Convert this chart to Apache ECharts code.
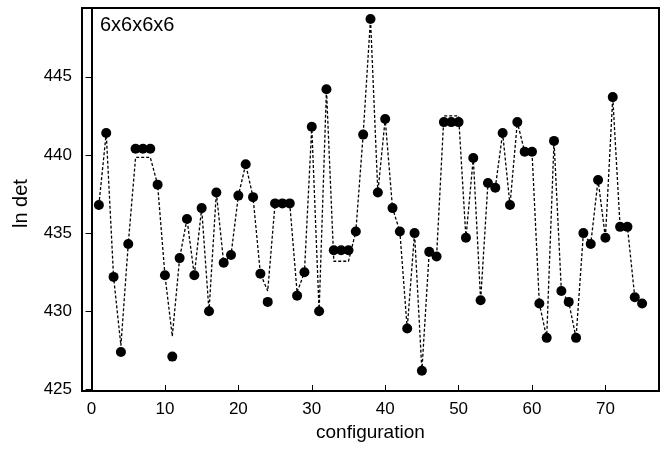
<!DOCTYPE html>
<html>
<head>
<meta charset="utf-8">
<script src="https://cdn.jsdelivr.net/npm/echarts@6/dist/echarts.min.js"></script>
<style>
  html, body { margin: 0; padding: 0; background: #fff; }
  #main { width: 671px; height: 449px; }
</style>
</head>
<body>
<div id="main"></div>
<script>
// configuration index 1..75
var configs = [];
for (var k = 1; k <= 75; k++) configs.push(k);

// ln det of each configuration (dots)
var lnDet = [
  436.8, 441.4, 432.2, 427.4, 434.3, 440.4, 440.4, 440.4, 438.1, 432.3,
  427.1, 433.4, 435.9, 432.3, 436.6, 430.0, 437.6, 433.1, 433.6, 437.4,
  439.4, 437.3, 432.4, 430.6, 436.9, 436.9, 436.9, 431.0, 432.5, 441.8,
  430.0, 444.2, 433.9, 433.9, 433.9, 435.1, 441.3, 448.7, 437.6, 442.3,
  436.6, 435.1, 428.9, 435.0, 426.2, 433.8, 433.5, 442.1, 442.1, 442.1,
  434.7, 439.8, 430.7, 438.2, 437.9, 441.4, 436.8, 442.1, 440.2, 440.2,
  430.5, 428.3, 440.9, 431.3, 430.6, 428.3, 435.0, 434.3, 438.4, 434.7,
  443.7, 435.4, 435.4, 430.9, 430.5
];

// dashed curve (same as dots except a few places)
var curve = [
  436.8, 441.4, 432.2, 427.8, 434.3, 439.85, 439.85, 439.85, 438.1, 432.3,
  428.4, 433.4, 435.9, 432.3, 436.6, 430.0, 437.6, 433.1, 433.6, 437.4,
  439.4, 437.3, 432.4, 431.3, 436.9, 436.9, 436.9, 431.2, 432.5, 441.8,
  430.0, 444.2, 433.2, 433.2, 433.2, 435.1, 441.3, 448.7, 437.6, 442.3,
  436.6, 435.1, 428.9, 435.0, 426.2, 433.8, 433.5, 442.5, 442.5, 442.5,
  434.7, 439.8, 430.7, 438.2, 437.9, 441.4, 436.8, 442.1, 440.2, 440.2,
  430.5, 428.3, 440.9, 431.3, 430.6, 428.3, 435.0, 434.3, 438.4, 434.7,
  443.7, 435.4, 435.4, 430.9, 430.5
];

var xTicks = [0, 10, 20, 30, 40, 50, 60, 70];
var yTicks = [425, 430, 435, 440, 445];

var chart = echarts.init(document.getElementById('main'), null, { renderer: 'canvas' });

var font = 'Liberation Sans, Arial, Helvetica, sans-serif';

var option = {
  backgroundColor: '#fff',
  animation: false,
  grid: {
    left: 82, right: 12, top: 8, bottom: 58,
    show: true, borderColor: '#000', borderWidth: 2
  },
  xAxis: {
    type: 'value',
    min: -1.3, max: 77.3,
    axisLine: { show: true, lineStyle: { color: '#000', width: 2 } },
    axisTick: { show: true, inside: true, length: 6, customValues: xTicks, lineStyle: { color: '#000', width: 1 } },
    axisLabel: { customValues: xTicks, color: '#000', fontSize: 17, fontFamily: font, margin: 10 },
    splitLine: { show: false }
  },
  yAxis: {
    type: 'value',
    min: 424.9, max: 449.4,
    axisLine: { show: true, lineStyle: { color: '#000', width: 2 } },
    axisTick: { show: true, inside: false, length: 6, customValues: yTicks, lineStyle: { color: '#000', width: 1 } },
    axisLabel: { customValues: yTicks, color: '#000', fontSize: 17, fontFamily: font, margin: 10 },
    splitLine: { show: false }
  },
  graphic: [
    { type: 'text', left: 100, top: 15, style: { text: '6x6x6x6', font: '20px ' + font, fill: '#000' } },
    { type: 'text', left: 316, top: 423, style: { text: 'configuration', font: '19px ' + font, fill: '#000' } },
    { type: 'text', x: 11, y: 228, rotation: Math.PI / 2, style: { text: 'ln det', font: '20px ' + font, fill: '#000' } }
  ],
  series: [
    {
      type: 'line',
      data: configs.map(function (c, i) { return [c, curve[i]]; }),
      symbol: 'none',
      lineStyle: { color: '#000', width: 1.3, type: [3, 2] },
      z: 1
    },
    {
      type: 'scatter',
      data: configs.map(function (c, i) { return [c, lnDet[i]]; }),
      symbol: 'circle',
      symbolSize: 10,
      itemStyle: { color: '#000', opacity: 1 },
      z: 2
    }
  ]
};

chart.setOption(option);
</script>
</body>
</html>
